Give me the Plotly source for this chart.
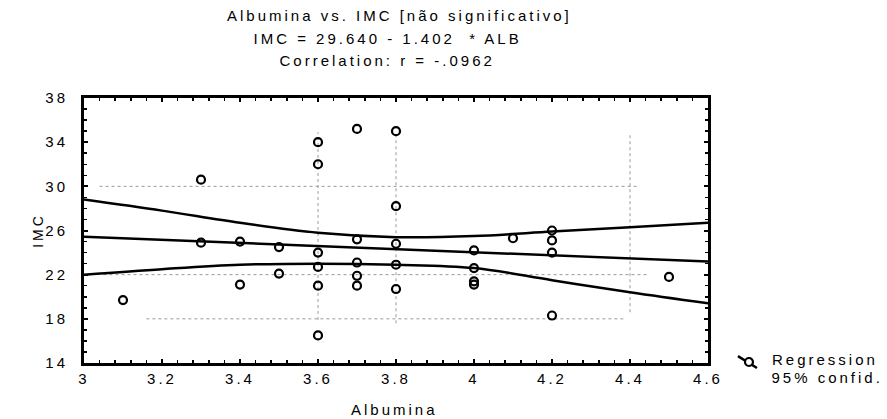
import plotly.graph_objects as go

# ---- data ----
albumina = [3.1, 3.3, 3.3, 3.4, 3.4, 3.5, 3.5,
            3.6, 3.6, 3.6, 3.6, 3.6, 3.6,
            3.7, 3.7, 3.7, 3.7, 3.7,
            3.8, 3.8, 3.8, 3.8, 3.8,
            4.0, 4.0, 4.0, 4.0,
            4.1,
            4.2, 4.2, 4.2, 4.2,
            4.5]
imc = [19.7, 30.6, 24.9, 25.0, 21.1, 24.5, 22.1,
       34.0, 32.0, 24.0, 22.7, 21.0, 16.5,
       35.2, 25.2, 23.1, 21.9, 21.0,
       35.0, 28.2, 24.8, 22.9, 20.7,
       24.2, 22.6, 21.4, 21.1,
       25.3,
       26.0, 25.1, 24.0, 18.3,
       21.8]

# regression line IMC = 29.640 - 1.402 * ALB (endpoints of the drawn line)
reg_x = [3.0, 4.6]
reg_y = [25.43, 23.19]

# 95% confidence band
band_x = [3.0, 3.2, 3.4, 3.6, 3.8, 4.0, 4.2, 4.4, 4.6]
band_upper = [28.8, 27.8, 26.7, 25.8, 25.4, 25.5, 25.9, 26.3, 26.7]
band_lower = [22.0, 22.5, 22.9, 23.0, 22.9, 22.6, 21.5, 20.4, 19.4]

x_ticks = [3, 3.2, 3.4, 3.6, 3.8, 4, 4.2, 4.4, 4.6]
x_tick_text = ["3", "3.2", "3.4", "3.6", "3.8", "4", "4.2", "4.4", "4.6"]
y_ticks = [14, 18, 22, 26, 30, 34, 38]

title_lines = ["Albumina vs. IMC [não significativo]",
               "IMC = 29.640 - 1.402  * ALB",
               "Correlation: r = -.0962"]

FONT = "Liberation Sans, Arial, sans-serif"

fig = go.Figure()

# partial dotted grid (as in the scan)
grid_h = [(30, 3.04, 4.42), (22, 3.05, 4.45), (18, 3.16, 4.39)]
grid_v = [(3.6, 17.9, 34.9), (3.8, 17.6, 34.8), (4.4, 18.6, 34.9)]
for yv, xa, xb in grid_h:
    fig.add_shape(type="line", xref="x", yref="y", x0=xa, x1=xb, y0=yv, y1=yv,
                  line=dict(color="#9a9a9a", width=1, dash="dot"), layer="below")
for xv, ya, yb in grid_v:
    fig.add_shape(type="line", xref="x", yref="y", x0=xv, x1=xv, y0=ya, y1=yb,
                  line=dict(color="#9a9a9a", width=1, dash="dot"), layer="below")

fig.add_trace(go.Scatter(x=band_x, y=band_upper, mode="lines", line=dict(color="black", width=2.5, shape="spline"),
                         showlegend=False, hoverinfo="skip"))
fig.add_trace(go.Scatter(x=band_x, y=band_lower, mode="lines", line=dict(color="black", width=2.5, shape="spline"),
                         showlegend=False, hoverinfo="skip"))
fig.add_trace(go.Scatter(x=reg_x, y=reg_y, mode="lines", line=dict(color="black", width=2.5),
                         showlegend=False, hoverinfo="skip"))
fig.add_trace(go.Scatter(x=albumina, y=imc, mode="markers",
                         marker=dict(symbol="circle-open", size=8, color="black", line=dict(width=2.2, color="black")),
                         showlegend=False))

axis_common = dict(showline=True, linewidth=3, linecolor="black", mirror="ticks",
                   ticks="inside", ticklen=4, tickwidth=2, tickcolor="black",
                   showgrid=False, zeroline=False,
                   tickfont=dict(family=FONT, size=15, color="black"))

fig.update_xaxes(range=[3, 4.6], tickvals=x_ticks, ticktext=x_tick_text,
                 minor=dict(dtick=0.04, ticks="inside", ticklen=3, tickcolor="black", tickwidth=1.5, showgrid=False),
                 ticklabelstandoff=0, **axis_common)
fig.update_yaxes(range=[14, 38], tickvals=y_ticks,
                 minor=dict(dtick=1, ticks="inside", ticklen=3, tickcolor="black", tickwidth=1.5, showgrid=False),
                 ticklabelstandoff=10, **axis_common)

annotations = []
title_pos = [(0.506, 1.310), (0.486, 1.224), (0.486, 1.142)]
for txt, (xp, yp) in zip(title_lines, title_pos):
    annotations.append(dict(text=txt, x=xp, y=yp, xref="paper", yref="paper",
                            xanchor="center", yanchor="middle", showarrow=False,
                            font=dict(family=FONT, size=15, color="black")))
annotations.append(dict(text="IMC", x=-0.074, y=0.50, xref="paper", yref="paper", textangle=-90,
                        xanchor="center", yanchor="middle", showarrow=False,
                        font=dict(family=FONT, size=14, color="black")))
annotations.append(dict(text="Albumina", x=0.497, y=-0.177, xref="paper", yref="paper",
                        xanchor="center", yanchor="middle", showarrow=False,
                        font=dict(family=FONT, size=15, color="black")))
# letter-spacing widens text around its centre, so the left-anchored legend texts are offset
annotations.append(dict(text="Regression", x=1.1234, y=0.015, xref="paper", yref="paper",
                        xanchor="left", yanchor="middle", showarrow=False,
                        font=dict(family=FONT, size=15, color="black")))
annotations.append(dict(text="95% confid.", x=1.1258, y=-0.053, xref="paper", yref="paper",
                        xanchor="left", yanchor="middle", showarrow=False,
                        font=dict(family=FONT, size=15, color="black")))

# legend symbol (line with circle)
fig.add_shape(type="line", xref="paper", yref="paper", x0=1.048, y0=0.026, x1=1.0785, y1=-0.019,
              line=dict(color="black", width=2.5))
fig.add_shape(type="circle", xref="paper", yref="paper", x0=1.0593, x1=1.0721, y0=-0.0113, y1=0.0189,
              line=dict(color="black", width=2.2), fillcolor="white")

fig.update_layout(width=887, height=419, margin=dict(l=84, r=179, t=98, b=56),
                  plot_bgcolor="white", paper_bgcolor="white", annotations=annotations,
                  showlegend=False)

post = """
var s=document.createElement('style');
s.textContent='html,body{margin:0;padding:0;overflow:hidden;} svg text, text{letter-spacing:3px;}';
document.head.appendChild(s);
"""
fig.write_html("out.html", post_script=post, config={"displayModeBar": False, "staticPlot": True})
